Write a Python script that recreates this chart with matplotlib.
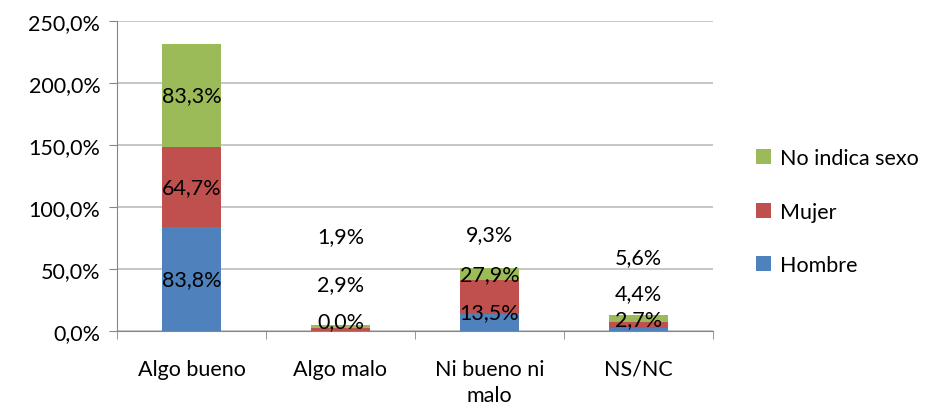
import numpy as np
import matplotlib
matplotlib.use("Agg")
import matplotlib.pyplot as plt
from matplotlib.ticker import FuncFormatter

plt.rcParams['font.family'] = ['Lato', 'DejaVu Sans']

categorias = ['Algo bueno', 'Algo malo', 'Ni bueno ni\nmalo', 'NS/NC']
hombre = [83.8, 0.0, 13.5, 2.7]
mujer = [64.7, 2.9, 27.9, 4.4]
no_indica = [83.3, 1.9, 9.3, 5.6]

series = [('Hombre', hombre, '#4F81BD'),
          ('Mujer', mujer, '#C0504D'),
          ('No indica sexo', no_indica, '#9BBB59')]

# where the labels sit (data units); small segments were moved by hand
label_y = {'Hombre': [41.9, 8, 15, 10],
           'Mujer': [116, 38, 46, 31],
           'No indica sexo': [190, 77, 78, 60]}

FS = 15.5

fig = plt.figure(figsize=(9.33, 4.10), dpi=100)
ax = fig.add_axes([0.1254, 0.19, 0.6388, 0.756])

x = np.arange(len(categorias))
bottom = np.zeros(len(categorias))
handles = []
for name, vals, col in series:
    b = ax.bar(x, vals, 0.4, bottom=bottom, color=col, label=name, zorder=2)
    handles.append(b)
    for xi, v, ly in zip(x, vals, label_y[name]):
        ax.text(xi, ly, f"{v:.1f}%".replace('.', ','), ha='center', va='center',
                fontsize=FS, color='black', zorder=3)
    bottom += np.array(vals)

ax.set_ylim(0, 250)
ax.set_xlim(-0.5, 3.5)
ax.set_yticks(np.arange(0, 251, 50))
ax.yaxis.set_major_formatter(FuncFormatter(lambda v, p: f"{v:.1f}%".replace('.', ',')))
ax.set_xticks(x)
ax.set_xticklabels(categorias, linespacing=1.4)
ax.set_xticks(np.arange(-0.5, 4, 1), minor=True)
ax.tick_params(axis='x', which='major', length=0, pad=20, labelsize=FS)
ax.tick_params(axis='x', which='minor', length=6, color='#868686', direction='out')
ax.tick_params(axis='y', length=6, color='#868686', direction='out', labelsize=FS, pad=6)
ax.grid(axis='y', color='#BEBEBE', linewidth=1.2, zorder=0)
for s in ['top', 'right']:
    ax.spines[s].set_visible(False)
ax.spines['left'].set_color('#868686')
ax.spines['bottom'].set_color('#868686')

ax.legend(handles[::-1], [h.get_label() for h in handles[::-1]],
          loc='center left', bbox_to_anchor=(1.04, 0.385), frameon=False,
          fontsize=FS, handlelength=0.7, handleheight=0.7, handletextpad=0.4,
          labelspacing=1.55)

fig.savefig('out.png', dpi=100)
